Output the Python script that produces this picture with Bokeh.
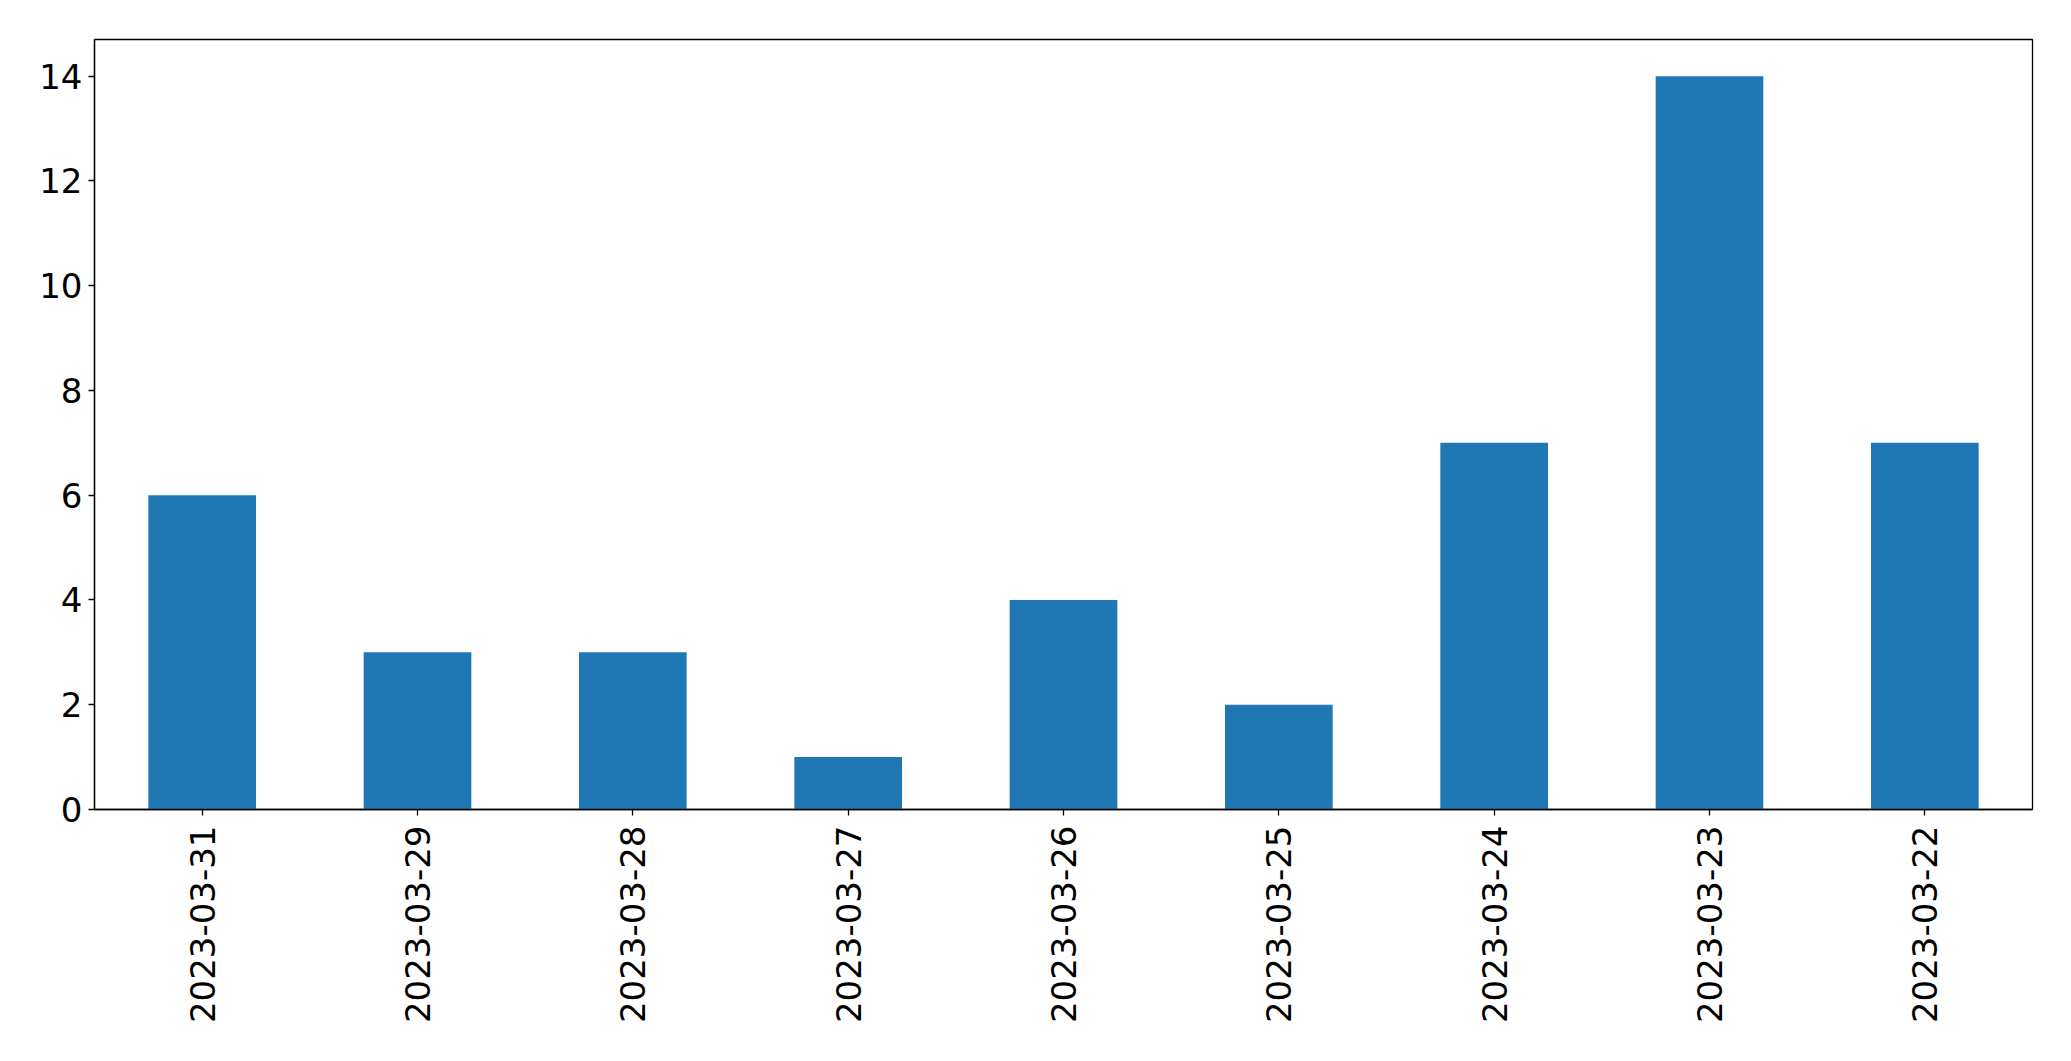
import math
from bokeh.plotting import figure
from bokeh.models import FactorRange, Range1d, FixedTicker
from bokeh.embed import file_html
from bokeh.resources import INLINE

dates = ["2023-03-31", "2023-03-29", "2023-03-28", "2023-03-27", "2023-03-26",
         "2023-03-25", "2023-03-24", "2023-03-23", "2023-03-22"]
counts = [6, 3, 3, 1, 4, 2, 7, 14, 7]
y_ticks = [0, 2, 4, 6, 8, 10, 12, 14]

p = figure(x_range=FactorRange(*dates), y_range=Range1d(0, 14.7),
           frame_width=1938, frame_height=770, width=2055, height=1045,
           output_backend="svg", toolbar_location=None,
           min_border_left=94, min_border_top=39, min_border_right=23, min_border_bottom=236)

p.vbar(x=dates, top=counts, width=0.5, color="#1f77b4", line_color=None)

p.xgrid.visible = False
p.ygrid.visible = False
p.outline_line_color = "black"
p.outline_line_width = 1.3
p.outline_line_alpha = 1.0

for ax in (p.xaxis[0], p.yaxis[0]):
    ax.major_label_text_font = "DejaVu Sans"
    ax.major_label_text_font_size = "34px"
    ax.major_label_text_color = "black"
    ax.axis_line_color = "black"
    ax.axis_line_width = 1.3
    ax.major_tick_line_color = "black"
    ax.major_tick_line_width = 1.3
    ax.major_tick_out = 6
    ax.major_tick_in = 0
    ax.minor_tick_line_color = None

p.yaxis[0].ticker = FixedTicker(ticks=y_ticks)
p.yaxis[0].major_label_standoff = 6
p.xaxis[0].major_label_orientation = math.pi / 2
p.xaxis[0].major_label_standoff = 10

open("out.html", "w").write(file_html(p, INLINE))
